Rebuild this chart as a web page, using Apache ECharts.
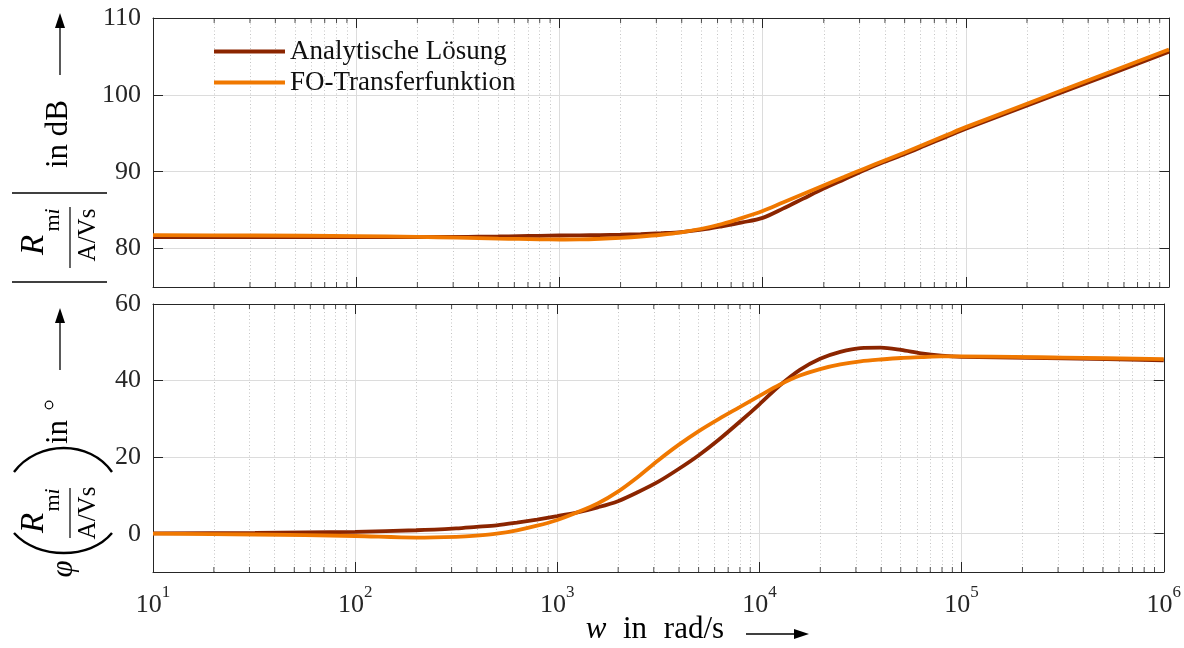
<!DOCTYPE html>
<html><head><meta charset="utf-8">
<script src="https://cdn.jsdelivr.net/npm/echarts@6/dist/echarts.min.js"></script>
<style>html,body{margin:0;padding:0;background:#fff}#c{width:1184px;height:648px}</style>
</head><body><div id="c"></div>
<script>
// ---- data ----
const freq = [10,32,100,200,316,398,501,631,794,1000,1259,1585,1995,2512,3162,3981,5012,6310,7943,10000,12589,15849,19953,25119,31623,39811,50119,63096,79433,100000,316228,1000000];
const magAnalytic = [81.5,81.5,81.5,81.5,81.52,81.55,81.58,81.62,81.66,81.7,81.72,81.75,81.8,81.88,82.0,82.15,82.45,82.9,83.4,84.0,85.2,86.5,87.8,89.0,90.2,91.3,92.3,93.4,94.5,95.6,100.6,105.6];
const magFO       = [81.75,81.7,81.62,81.52,81.42,81.36,81.3,81.25,81.2,81.18,81.2,81.28,81.4,81.57,81.8,82.12,82.58,83.2,84.0,84.9,86.0,87.1,88.2,89.3,90.4,91.45,92.5,93.6,94.7,95.8,100.85,105.9];
const phaseAnalytic = [0.1,0.2,0.5,0.9,1.4,1.8,2.2,2.9,3.7,4.6,5.6,6.9,8.5,10.9,13.6,16.9,20.5,24.6,29.1,33.8,38.7,42.8,45.7,47.5,48.5,48.6,48.0,47.1,46.5,46.2,45.8,45.3];
const phaseFO       = [0.0,-0.2,-0.6,-1.0,-0.8,-0.5,0.0,0.9,2.1,3.6,5.6,7.9,11.0,14.9,19.2,23.2,26.8,30.0,33.0,36.0,38.9,41.3,43.0,44.2,45.0,45.5,45.9,46.1,46.3,46.3,46.0,45.6];
const seriesNames = ['Analytische Lösung', 'FO-Transferfunktion'];
const magRange = [75, 110];
const phaseRange = [-10, 60];
const decades = [1, 2, 3, 4, 5];
const minorMultipliers = [2, 3, 4, 5, 6, 7, 8, 9];

// ---- styling ----
const SERIF = '"Liberation Serif", "Times New Roman", serif';
const AX = '#262626';
const C_AN = '#8B2500';
const C_FO = '#F07800';
const minorVals = [];
decades.forEach(e => minorMultipliers.forEach(m => minorVals.push(m * Math.pow(10, e))));

function xAx(gi, pos, labels, split) {
  return {
    type: 'log', logBase: 10, gridIndex: gi, position: pos, min: 10, max: 1e6,
    axisLine: { show: true, onZero: false, lineStyle: { color: AX, width: 1 } },
    axisTick: { show: true, inside: true, length: 10, lineStyle: { color: AX } },
    axisLabel: {
      show: labels, margin: 12, color: AX,
      formatter: v => '{b|10}{s|' + Math.round(Math.log10(v)) + '}',
      rich: {
        b: { fontFamily: SERIF, fontSize: 26, lineHeight: 34, verticalAlign: 'bottom', color: AX },
        s: { fontFamily: SERIF, fontSize: 17, lineHeight: 20, verticalAlign: 'top', color: AX }
      }
    },
    splitLine: { show: split, lineStyle: { color: '#dcdcdc', width: 1 } },
    minorTick: { show: false }, minorSplitLine: { show: false }
  };
}
function yAx(gi, pos, range, labels) {
  return {
    type: 'value', gridIndex: gi, position: pos, min: range[0], max: range[1], splitNumber: 4,
    axisLine: { show: true, onZero: false, lineStyle: { color: AX, width: 1 } },
    axisTick: { show: true, inside: true, length: 10, lineStyle: { color: AX } },
    axisLabel: { show: labels, margin: 12, color: AX, fontFamily: SERIF, fontSize: 26, showMinLabel: false },
    splitLine: { show: labels, lineStyle: { color: '#dcdcdc', width: 1 } }
  };
}
function curve(name, xi, yi, vals, color, z) {
  return {
    name, type: 'line', xAxisIndex: xi, yAxisIndex: yi,
    data: freq.map((f, i) => [f, vals[i]]),
    showSymbol: false, symbol: 'none', smooth: 0.3, silent: true, z,
    lineStyle: { color, width: 3.8 }, itemStyle: { color }
  };
}
function minorGrid(xi, yi) {
  return {
    type: 'line', xAxisIndex: xi, yAxisIndex: yi, data: [], silent: true, z: 1,
    markLine: {
      silent: true, symbol: ['none', 'none'], label: { show: false }, animation: false, z: 1,
      lineStyle: { type: [1, 2.5], color: '#c4c4c4', width: 1 },
      emphasis: { disabled: true },
      data: minorVals.map(v => ({ xAxis: v }))
    }
  };
}
function minorTicks(xi, yi, yv, off) {
  return {
    type: 'scatter', xAxisIndex: xi, yAxisIndex: yi, silent: true, clip: false, z: 6,
    data: minorVals.map(v => [v, yv]), symbol: 'rect', symbolSize: [1, 5], symbolOffset: [0, off],
    itemStyle: { color: AX }
  };
}

// ---- decorative labels (rotated y titles, arrows) ----
function txt(x, y, text, font, extra) {
  return { type: 'text', x, y, style: Object.assign({ text, font, fill: '#000', align: 'center', verticalAlign: 'middle', textAlign: 'center', textVerticalAlign: 'middle' }, extra || {}) };
}
function ln(x1, y1, x2, y2, w) {
  return { type: 'line', shape: { x1, y1, x2, y2 }, style: { stroke: '#000', lineWidth: w || 1.3 } };
}
function poly(points) { return { type: 'polygon', shape: { points }, style: { fill: '#000' } }; }
function paren(x0, xc) {
  return { type: 'bezierCurve', shape: { x1: x0, y1: -46, cpx1: xc, cpy1: -22, cpx2: xc, cpy2: 30, x2: x0, y2: 52 }, style: { stroke: '#000', lineWidth: 2.4, fill: 'none' } };
}
const richMi = { m: { fontFamily: SERIF, fontSize: 22 }, i: { fontFamily: SERIF, fontSize: 22, fontStyle: 'italic' } };
const topLabel = {
  type: 'group', x: 60, y: 285, rotation: Math.PI / 2, silent: true,
  children: [
    ln(3, -48, 3, 47, 1.3),
    txt(40, -26, 'R', 'italic 33px ' + SERIF),
    txt(65, -7, '{m|m}{i|i}', '22px ' + SERIF, { rich: richMi }),
    ln(17, 10, 78, 10, 1.2),
    txt(50, 28, 'A/Vs', '25px ' + SERIF),
    ln(92, -48, 92, 47, 1.3),
    txt(151, -1, 'in dB', '31px ' + SERIF),
    ln(210, 0, 258, 0, 1.3),
    poly([[272, 0], [257, -5], [257, 5]])
  ]
};
const botLabel = {
  type: 'group', x: 60, y: 570, rotation: Math.PI / 2, silent: true,
  children: [
    txt(1, 4, 'φ', 'italic 31px ' + SERIF),
    paren(37, 10.3),
    txt(47, -26, 'R', 'italic 33px ' + SERIF),
    txt(70, -7, '{m|m}{i|i}', '22px ' + SERIF, { rich: richMi }),
    ln(32, 10, 82, 10, 1.2),
    txt(57, 28, 'A/Vs', '25px ' + SERIF),
    paren(98, 130),
    txt(138, -1, 'in', '31px ' + SERIF),
    { type: 'circle', shape: { cx: 165, cy: -11, r: 3.8 }, style: { stroke: '#000', lineWidth: 1.2, fill: 'none' } },
    ln(200, 0, 248, 0, 1.3),
    poly([[262, 0], [247, -5], [247, 5]])
  ]
};
const xTitle = [
  txt(596, 630, 'w', 'italic 31px ' + SERIF),
  txt(635, 630, 'in', '31px ' + SERIF),
  txt(694, 630, 'rad/s', '31px ' + SERIF),
  ln(746, 634, 795, 634, 1.3),
  poly([[809, 634], [794, 629], [794, 639]])
];

const chart = echarts.init(document.getElementById('c'), null, { renderer: 'canvas' });
chart.setOption({
  animation: false,
  backgroundColor: '#fff',
  grid: [
    { left: 153, right: 15, top: 18, height: 269 },
    { left: 153, right: 15, top: 304, height: 268 }
  ],
  xAxis: [xAx(0, 'bottom', false, true), xAx(0, 'top', false, false), xAx(1, 'bottom', true, true), xAx(1, 'top', false, false)],
  yAxis: [yAx(0, 'left', magRange, true), yAx(0, 'right', magRange, false), yAx(1, 'left', phaseRange, true), yAx(1, 'right', phaseRange, false)],
  legend: {
    data: seriesNames, orient: 'vertical', left: 209, top: 33, icon: 'rect',
    itemWidth: 71, itemHeight: 4, itemGap: 4, selectedMode: false,
    textStyle: { fontFamily: SERIF, fontSize: 27, color: '#111', lineHeight: 26 }
  },
  series: [
    minorGrid(0, 0), minorGrid(2, 2),
    minorTicks(0, 0, magRange[0], -2.5), minorTicks(0, 0, magRange[1], 2.5),
    minorTicks(2, 2, phaseRange[0], -2.5), minorTicks(2, 2, phaseRange[1], 2.5),
    curve(seriesNames[0], 0, 0, magAnalytic, C_AN, 3),
    curve(seriesNames[1], 0, 0, magFO, C_FO, 4),
    curve(seriesNames[0], 2, 2, phaseAnalytic, C_AN, 3),
    curve(seriesNames[1], 2, 2, phaseFO, C_FO, 4)
  ],
  graphic: { elements: [topLabel, botLabel].concat(xTitle) }
});
</script></body></html>
